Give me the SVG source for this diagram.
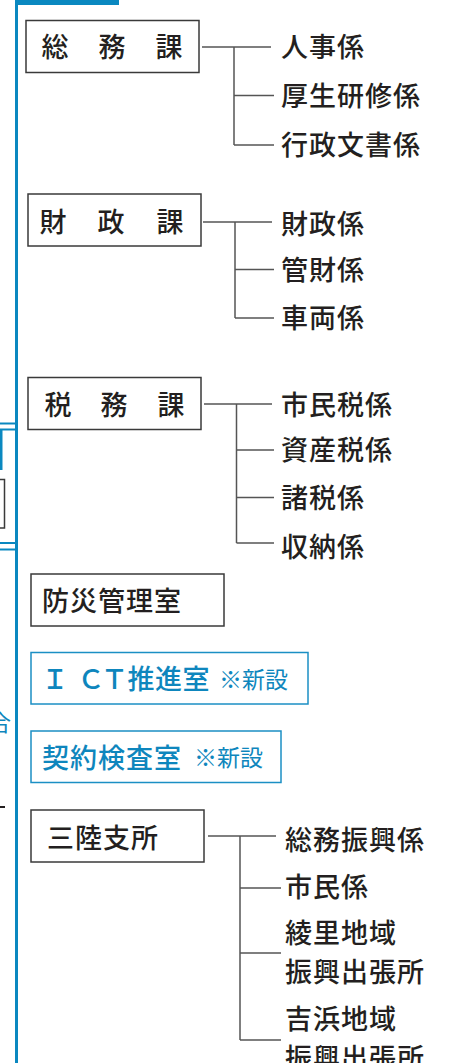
<svg xmlns="http://www.w3.org/2000/svg" width="455" height="1063" viewBox="0 0 455 1063">
<style>
.t{font-family:"Noto Sans CJK JP","Noto Sans CJK SC",sans-serif;font-size:27px;font-weight:500;fill:#231f20;letter-spacing:1px}
.bt{font-family:"Noto Sans CJK JP","Noto Sans CJK SC",sans-serif;font-size:27px;font-weight:500;fill:#231f20;text-anchor:middle}
.bl{font-family:"Noto Sans CJK JP","Noto Sans CJK SC",sans-serif;font-size:27px;font-weight:500;fill:#0e86bd}
.new{font-family:"Noto Sans CJK JP","Noto Sans CJK SC",sans-serif;font-size:23px;font-weight:400;fill:#0e86bd}
.box{fill:#fff;stroke:#3a3a3a;stroke-width:1.5}
.bbox{fill:#fff;stroke:#1b8fc4;stroke-width:1.5}
.ln{fill:none;stroke:#555;stroke-width:1.5}
.blu{fill:none;stroke:#0a88c0}
</style>
<g id="frame">
<line class="blu" x1="16.5" y1="0" x2="16.5" y2="1063" stroke-width="3"/>
<rect x="15" y="0" width="104" height="5" fill="#0a88c0"/>
<line class="blu" x1="0" y1="423.5" x2="16" y2="423.5" stroke-width="2"/>
<line class="blu" x1="0" y1="429.5" x2="16" y2="429.5" stroke-width="2"/>
<line class="blu" x1="1" y1="430" x2="1" y2="470" stroke-width="3"/>
<path d="M0 479.5H4.5V528H0" fill="none" stroke="#3a3a3a" stroke-width="1.5"/>
<line class="blu" x1="0" y1="543" x2="16" y2="543" stroke-width="2"/>
<line class="blu" x1="0" y1="549.5" x2="16" y2="549.5" stroke-width="2"/>
<text x="11" y="731" class="new" font-size="22" text-anchor="end">合</text>
<line x1="0" y1="807" x2="5" y2="807" stroke="#231f20" stroke-width="2"/>
</g>
<g id="connectors">
<path class="ln" d="M202 47H271M234 47V145M234 95.5H274M234 145H274"/>
<path class="ln" d="M203 222H272M235 222V318M235 269.5H274M235 318H274"/>
<path class="ln" d="M204 404H272M236.5 404V543M236.5 450H274M236.5 497.5H274M236.5 543H274"/>
<path class="ln" d="M208 836H276M240 836V1040M240 888H281M240 953H281M240 1040H281"/>
</g>
<g id="soumu">
<rect class="box" x="26" y="20.5" width="173" height="52"/>
<text class="bt" x="55 112 169" y="57">総務課</text>
</g>
<g id="soumu-children">
<text class="t" x="281" y="57">人事係</text>
<text class="t" x="281" y="105.5">厚生研修係</text>
<text class="t" x="281" y="155">行政文書係</text>
</g>
<g id="zaisei">
<rect class="box" x="28" y="194" width="173" height="52"/>
<text class="bt" x="53 111 170" y="231.5">財政課</text>
</g>
<g id="zaisei-children">
<text class="t" x="281" y="234">財政係</text>
<text class="t" x="281" y="280">管財係</text>
<text class="t" x="281" y="327.5">車両係</text>
</g>
<g id="zeimu">
<rect class="box" x="28" y="377.5" width="173" height="52"/>
<text class="bt" x="58 114 171" y="415">税務課</text>
</g>
<g id="zeimu-children">
<text class="t" x="281" y="414.5">市民税係</text>
<text class="t" x="281" y="460">資産税係</text>
<text class="t" x="281" y="508">諸税係</text>
<text class="t" x="281" y="556.5">収納係</text>
</g>
<g id="bousai">
<rect class="box" x="31" y="574" width="193" height="52"/>
<text class="t" x="42" y="611">防災管理室</text>
</g>
<g id="ict">
<rect class="bbox" x="31" y="652.5" width="277" height="51.5"/>
<text class="bl" text-anchor="middle" x="55 91 114.5 141 168.5 196" y="689">ＩＣＴ推進室</text>
<text class="new" x="219" y="688">※新設</text>
</g>
<g id="keiyaku">
<rect class="bbox" x="31" y="731" width="250" height="51.5"/>
<text class="bl" x="42" y="767.5" letter-spacing="1">契約検査室</text>
<text class="new" x="194" y="766">※新設</text>
</g>
<g id="sanriku">
<rect class="box" x="31" y="810" width="173" height="52"/>
<text class="t" x="47" y="848">三陸支所</text>
</g>
<g id="sanriku-children">
<text class="t" x="285" y="849.5">総務振興係</text>
<text class="t" x="285" y="897">市民係</text>
<text class="t" x="285" y="943">綾里地域</text>
<text class="t" x="285" y="981.5">振興出張所</text>
<text class="t" x="285" y="1029">吉浜地域</text>
<text class="t" x="285" y="1068">振興出張所</text>
</g>
</svg>
